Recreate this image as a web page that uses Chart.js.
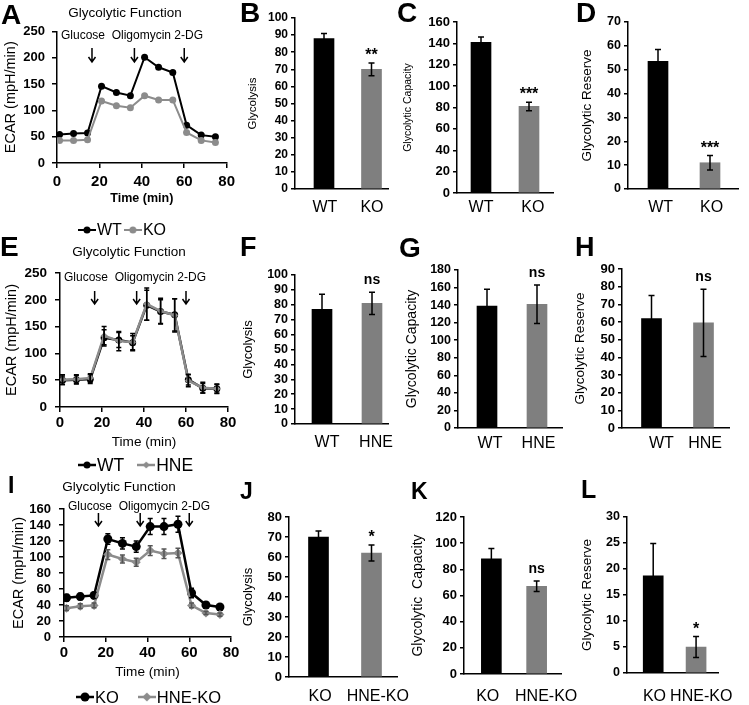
<!DOCTYPE html>
<html lang="en">
<head>
<meta charset="UTF-8">
<title>Glycolytic Function</title>
<script src="https://cdn.jsdelivr.net/npm/chart.js"></script>
<style>
  body { margin: 0; background: #fff; overflow: hidden; }
  #fig { position: relative; width: 749px; height: 705px; overflow: hidden; font-family: Arial, "Liberation Sans", sans-serif; }
  #fig canvas { position: absolute; }
  .tag { position: absolute; font-weight: bold; line-height: 1; color: #000; }
</style>
</head>
<body>
<div id="fig"></div>
<script>
// ---- data ----
const timeMin = [1.2, 7.8, 14.4, 21, 28, 34.6, 41.3, 47.9, 54.6, 61.1, 68, 74.7];
const injectTimes = [16.5, 36.5, 60];
const injectText = 'Glucose  Oligomycin 2-DG';

// A: WT vs KO
const ecarWT_A = [54, 56, 57, 146, 134, 128, 201, 182, 172, 72, 53, 50];
const ecarKO_A = [43, 43, 44, 118, 109, 105, 128, 120, 120, 58, 43, 39];
// E: WT vs HNE
const ecarWT_E = [50, 51, 52, 129, 125, 120, 190, 178, 172, 51, 35, 34];
const errWT_E = [8, 8, 8, 15, 14, 13, 28, 22, 30, 10, 9, 8];
const ecarHNE_E = [51, 52, 54, 133, 123, 121, 192, 179, 171, 49, 36, 34];
const errHNE_E = [9, 8, 8, 17, 18, 16, 30, 24, 31, 11, 10, 9];
// I: KO vs HNE-KO
const ecarKO_I = [49, 50.5, 52, 122.5, 117, 113, 138, 138, 141, 55, 40, 37.5];
const errKO_I = [4, 4, 4, 6.5, 7, 7, 10, 10, 10, 6, 3, 2];
const ecarHNEKO_I = [36, 38.5, 39.5, 103, 97.5, 93.5, 108, 104, 105, 39.5, 30, 28];
const errHNEKO_I = [3, 3, 3, 6, 5, 5, 6, 6, 6, 3, 2, 2];

// bar panels
const groupsWTKO = ['WT', 'KO'];
const groupsWTHNE = ['WT', 'HNE'];
const groupsKOHNE = ['KO', 'HNE-KO'];
const glycolysisB = [88, 70],   glycolysisErrB = [3, 3.7],  sigB = ['', '**'];
const capacityC = [141, 81],    capacityErrC = [5, 4],      sigC = ['', '***'];
const reserveD = [53.5, 11],    reserveErrD = [5, 3],       sigD = ['', '***'];
const glycolysisF = [77, 81],   glycolysisErrF = [10, 7.5], sigF = ['', 'ns'];
const capacityG = [139, 141],   capacityErrG = [19, 22],    sigG = ['', 'ns'];
const reserveH = [62, 59.5],    reserveErrH = [13, 19],     sigH = ['', 'ns'];
const glycolysisJ = [70, 62],   glycolysisErrJ = [3, 4],    sigJ = ['', '*'];
const capacityK = [88, 67],     capacityErrK = [8, 4],      sigK = ['', 'ns'];
const reserveL = [18.7, 5],     reserveErrL = [6.2, 2],     sigL = ['', '*'];

const FONT = 'Arial, "Liberation Sans", sans-serif';
const BLACK = '#000000';
const GRAY_BAR = '#7f7f7f';
const GRAY_LINE = '#8c8c8c';

Chart.defaults.font.family = FONT;
Chart.defaults.color = BLACK;

const fig = document.getElementById('fig');

function addCanvas(left, top, w, h) {
  const c = document.createElement('canvas');
  c.width = w; c.height = h;
  c.style.left = left + 'px'; c.style.top = top + 'px';
  c.style.width = w + 'px'; c.style.height = h + 'px';
  fig.appendChild(c);
  return c;
}

function addTag(text, left, capTop, size) {
  const d = document.createElement('div');
  d.className = 'tag';
  d.textContent = text;
  d.style.left = left + 'px';
  d.style.top = (capTop - 0.13 * size) + 'px';
  d.style.fontSize = size + 'px';
  fig.appendChild(d);
}

// small line+marker image for the legend
function legendMarker(color, style, r, lw) {
  const c = document.createElement('canvas');
  c.width = 18; c.height = 12;
  const x = c.getContext('2d');
  x.strokeStyle = color; x.fillStyle = color; x.lineWidth = lw;
  x.beginPath(); x.moveTo(0, 6); x.lineTo(18, 6); x.stroke();
  x.beginPath();
  if (style === 'rectRot') {
    x.moveTo(9, 6 - r); x.lineTo(9 + r, 6); x.lineTo(9, 6 + r); x.lineTo(9 - r, 6); x.closePath();
  } else {
    x.arc(9, 6, r, 0, Math.PI * 2);
  }
  x.fill();
  return c;
}

const errorBars = {
  id: 'errorBars',
  afterDatasetsDraw(chart) {
    const ctx = chart.ctx;
    const ys = chart.scales.y;
    chart.data.datasets.forEach((ds, i) => {
      if (!ds.errors) return;
      const meta = chart.getDatasetMeta(i);
      ctx.save();
      ctx.strokeStyle = ds.errColor || BLACK;
      ctx.lineWidth = 1.5;
      meta.data.forEach((el, j) => {
        const v = ds.data[j].y, e = ds.errors[j];
        const top = ys.getPixelForValue(v + e), bot = ys.getPixelForValue(v - e);
        const cap = ds.capWidth || 3;
        ctx.beginPath();
        ctx.moveTo(el.x, top); ctx.lineTo(el.x, bot);
        ctx.moveTo(el.x - cap, top); ctx.lineTo(el.x + cap, top);
        ctx.moveTo(el.x - cap, bot); ctx.lineTo(el.x + cap, bot);
        ctx.stroke();
      });
      ctx.restore();
    });
  }
};

const sigMarks = {
  id: 'sigMarks',
  afterDraw(chart, args, o) {
    if (!o.labels) return;
    const ctx = chart.ctx;
    const ds = chart.data.datasets[0];
    const meta = chart.getDatasetMeta(0);
    ctx.save();
    ctx.fillStyle = BLACK;
    ctx.textAlign = 'center';
    ctx.textBaseline = 'alphabetic';
    o.labels.forEach((lab, j) => {
      if (!lab) return;
      const top = chart.scales.y.getPixelForValue(ds.data[j].y + ds.errors[j]);
      const star = lab.indexOf('*') >= 0;
      ctx.font = 'bold ' + (star ? 16 : 14) + 'px ' + FONT;
      ctx.fillText(lab, meta.data[j].x, top - (star ? 3 : 8));
    });
    ctx.restore();
  }
};

// title, injection arrows and the line+marker legend of the ECAR panels
const ecarDecor = {
  id: 'ecarDecor',
  afterDraw(chart, args, o) {
    if (!o.title) return;
    const ctx = chart.ctx;
    const xs = chart.scales.x;
    ctx.save();
    ctx.fillStyle = BLACK;
    ctx.textBaseline = 'middle';
    ctx.textAlign = 'center';
    ctx.font = o.titleSize + 'px ' + FONT;
    ctx.fillText(o.title, o.titleX, o.titleY);
    ctx.textAlign = 'left';
    ctx.font = '12px ' + FONT;
    ctx.fillText(injectText, xs.left + 4, o.textY);
    ctx.strokeStyle = BLACK;
    ctx.lineWidth = 1.5;
    injectTimes.forEach(t => {
      const px = xs.getPixelForValue(t);
      ctx.beginPath();
      ctx.moveTo(px, o.arrowTop); ctx.lineTo(px, o.arrowBottom);
      ctx.moveTo(px - 3.5, o.arrowBottom - 5); ctx.lineTo(px, o.arrowBottom); ctx.lineTo(px + 3.5, o.arrowBottom - 5);
      ctx.stroke();
    });
    // legend
    ctx.font = o.legendFont + 'px ' + FONT;
    let x = o.legendX;
    chart.data.datasets.forEach(ds => {
      const m = ds.marker;
      ctx.drawImage(m, x, o.legendY - m.height / 2);
      x += m.width + 1;
      ctx.fillText(ds.label, x, o.legendY + 1);
      x += ctx.measureText(ds.label).width + o.legendGap;
    });
    ctx.restore();
  }
};

function ecarPanel(g, series) {
  const H = Math.round(g.legendY + 12 - g.top0);
  const bottomAbs = g.top0 + H;
  const canvas = addCanvas(0, g.top0, g.W, H);
  new Chart(canvas, {
    type: 'line',
    data: {
      datasets: series.map((s, k) => ({
        label: s.label,
        data: timeMin.map((t, i) => ({ x: t, y: s.values[i] })),
        errors: s.errors,
        errColor: s.errColor || s.color,
        capWidth: 2.5,
        order: series.length - k,
        borderColor: s.color,
        backgroundColor: s.color,
        borderWidth: g.lineWidth,
        pointStyle: s.pointStyle,
        pointRadius: s.radius,
        pointBorderWidth: 0,
        pointBackgroundColor: s.color,
        marker: legendMarker(s.color, s.pointStyle, s.radius, g.lineWidth)
      }))
    },
    options: {
      responsive: false, animation: false, devicePixelRatio: 1, events: [],
      layout: { padding: { left: 0, top: g.top - g.top0, right: g.W - g.right, bottom: 0 } },
      scales: {
        x: {
          type: 'linear', min: 0, max: 80,
          ticks: { stepSize: 20, autoSkip: false, font: { size: g.xTickSize, weight: 'bold' }, padding: g.xTickY - g.bottom - 5 - 0.6 * g.xTickSize, maxRotation: 0 },
          grid: { drawOnChartArea: false, drawTicks: true, tickLength: 5, color: BLACK, lineWidth: 1.5 },
          border: { color: BLACK, width: 1.5 },
          title: {
            display: true, text: 'Time (min)',
            font: { size: g.xTitleSize, weight: g.xTitleBold ? 'bold' : 'normal' },
            padding: { top: 0, bottom: bottomAbs - g.xTitleY - 0.6 * g.xTitleSize }
          },
          afterFit: s => { s.height = bottomAbs - g.bottom; }
        },
        y: {
          min: 0, max: g.yMax,
          ticks: { stepSize: g.yStep, autoSkip: false, font: { size: g.yTickSize, weight: 'bold' }, padding: g.yTickPad },
          grid: { drawOnChartArea: false, drawTicks: true, tickLength: 5, color: BLACK, lineWidth: 1.5 },
          border: { color: BLACK, width: 1.5 },
          title: {
            display: true, text: 'ECAR (mpH/min)', font: { size: 14.5 },
            padding: { top: g.yTitleX - 0.6 * 14.5, bottom: 0 }
          },
          afterFit: s => { s.width = g.axisX; }
        }
      },
      plugins: {
        tooltip: { enabled: false },
        legend: { display: false },
        ecarDecor: {
          title: 'Glycolytic Function', titleSize: 13.5,
          titleX: g.titleX, titleY: g.titleY - g.top0,
          textY: g.textY - g.top0,
          arrowTop: g.arrowTop - g.top0, arrowBottom: g.arrowBottom - g.top0,
          legendX: g.legendX, legendY: g.legendY - g.top0, legendFont: g.legendFont, legendGap: g.legendGap
        }
      }
    },
    plugins: [errorBars, ecarDecor]
  });
}

function barPanel(g, cats, values, errors, sig, yTitle) {
  const H = Math.round(g.catY + 14 - g.top0);
  const d = g.c2 - g.c1;
  const xMin = -(g.c1 - g.axisX) / d;
  const xMax = xMin + (g.right - g.axisX) / d;
  const canvas = addCanvas(g.left0, g.top0, g.W, H);
  new Chart(canvas, {
    type: 'bar',
    data: {
      datasets: [{
        data: cats.map((c, i) => ({ x: i, y: values[i] })),
        errors: errors,
        backgroundColor: [BLACK, GRAY_BAR],
        borderWidth: 0,
        barThickness: 20,
        capWidth: 3
      }]
    },
    options: {
      responsive: false, animation: false, devicePixelRatio: 1, events: [],
      layout: { padding: { left: 0, top: g.top - g.top0, right: g.W - (g.right - g.left0), bottom: 0 } },
      scales: {
        x: {
          type: 'linear', min: xMin, max: xMax, offset: false,
          // category names sit a little off the bar centres in the figure
          afterBuildTicks: s => { s.ticks = cats.map((c, i) => ({ value: i + g.labelShift[i] })); },
          ticks: { callback: v => cats[Math.round(v)], autoSkip: false, maxRotation: 0, font: { size: 16 }, padding: g.catY - g.bottom - 0.6 * 16 },
          grid: { display: false, drawTicks: false },
          border: { color: BLACK, width: 1.5 },
          afterFit: s => { s.height = H - (g.bottom - g.top0); }
        },
        y: {
          min: 0, max: g.yMax,
          ticks: { stepSize: g.yStep, autoSkip: false, font: { size: g.tickSize, weight: 'bold' }, padding: 3 },
          grid: { drawOnChartArea: false, drawTicks: true, tickLength: 4, color: BLACK, lineWidth: 1.5 },
          border: { color: BLACK, width: 1.5 },
          title: {
            display: true, text: yTitle, font: { size: g.titleSize },
            padding: { top: (g.yTitleX - g.left0) - 0.6 * g.titleSize, bottom: 0 }
          },
          afterFit: s => { s.width = g.axisX - g.left0; }
        }
      },
      plugins: {
        legend: { display: false },
        tooltip: { enabled: false },
        sigMarks: { labels: sig }
      }
    },
    plugins: [errorBars, sigMarks]
  });
}

// ---- line panels ----
ecarPanel({ top0: 0, W: 240, axisX: 57, right: 227, top: 31.5, bottom: 163, yMax: 250, yStep: 50,
  yTickSize: 13, yTickPad: 7, xTickSize: 15, xTickY: 182, xTitleSize: 12.5, xTitleBold: true, xTitleY: 199,
  yTitleX: 11, legendY: 230, legendX: 78, legendFont: 16, legendGap: 2, lineWidth: 2,
  titleX: 125, titleY: 13, textY: 36, arrowTop: 48, arrowBottom: 62 },
  [{ label: 'WT', values: ecarWT_A, color: BLACK, pointStyle: 'circle', radius: 3.5 },
   { label: 'KO', values: ecarKO_A, color: GRAY_LINE, pointStyle: 'circle', radius: 3.5 }]);

ecarPanel({ top0: 235, W: 272, axisX: 60, right: 228, top: 273, bottom: 407, yMax: 250, yStep: 50,
  yTickSize: 13.5, yTickPad: 8, xTickSize: 15, xTickY: 423, xTitleSize: 13.6, xTitleBold: false, xTitleY: 442,
  yTitleX: 12, legendY: 465, legendX: 78, legendFont: 17.5, legendGap: 13, lineWidth: 2.5,
  titleX: 129, titleY: 252, textY: 278, arrowTop: 291, arrowBottom: 304 },
  [{ label: 'WT', values: ecarWT_E, errors: errWT_E, color: BLACK, pointStyle: 'circle', radius: 3.5 },
   { label: 'HNE', values: ecarHNE_E, errors: errHNE_E, color: GRAY_LINE, errColor: BLACK, pointStyle: 'rectRot', radius: 3.5 }]);

ecarPanel({ top0: 460, W: 294, axisX: 64, right: 231, top: 509, bottom: 637, yMax: 160, yStep: 20,
  yTickSize: 13, yTickPad: 8, xTickSize: 15, xTickY: 653, xTitleSize: 13.6, xTitleBold: false, xTitleY: 672,
  yTitleX: 19, legendY: 697, legendX: 76, legendFont: 16.5, legendGap: 19, lineWidth: 2.5,
  titleX: 119, titleY: 487, textY: 507, arrowTop: 513, arrowBottom: 526 },
  [{ label: 'KO', values: ecarKO_I, errors: errKO_I, color: BLACK, pointStyle: 'circle', radius: 4.5 },
   { label: 'HNE-KO', values: ecarHNEKO_I, errors: errHNEKO_I, color: GRAY_LINE, errColor: '#555555', pointStyle: 'rectRot', radius: 4.5 }]);

// ---- bar panels ----
barPanel({ left0: 240, top0: 0, W: 175, axisX: 295, right: 388, top: 18, bottom: 189, catY: 208, yTitleX: 253, titleSize: 11.5, tickSize: 12, c1: 324, c2: 371.5, labelShift: [0.02, 0.01], yMax: 100, yStep: 10 },
  groupsWTKO, glycolysisB, glycolysisErrB, sigB, 'Glycolysis');
barPanel({ left0: 395, top0: 0, W: 185, axisX: 457, right: 553, top: 22, bottom: 193, catY: 208, yTitleX: 408, titleSize: 10.5, tickSize: 13, c1: 481, c2: 529, labelShift: [0, 0.08], yMax: 160, yStep: 20 },
  groupsWTKO, capacityC, capacityErrC, sigC, 'Glycolytic Capacity');
barPanel({ left0: 570, top0: 0, W: 179, axisX: 628, right: 738, top: 22, bottom: 189, catY: 208, yTitleX: 587, titleSize: 13.5, tickSize: 12.5, c1: 658, c2: 710, labelShift: [0.05, 0.03], yMax: 70, yStep: 10 },
  groupsWTKO, reserveD, reserveErrD, sigD, 'Glycolytic Reserve');

barPanel({ left0: 240, top0: 235, W: 175, axisX: 295, right: 388, top: 275, bottom: 424, catY: 443, yTitleX: 248, titleSize: 13, tickSize: 12.5, c1: 322, c2: 372, labelShift: [0.1, 0.08], yMax: 100, yStep: 10 },
  groupsWTHNE, glycolysisF, glycolysisErrF, sigF, 'Glycolysis');
barPanel({ left0: 395, top0: 235, W: 185, axisX: 458, right: 562, top: 270, bottom: 428, catY: 444, yTitleX: 412, titleSize: 14, tickSize: 12.5, c1: 487, c2: 537, labelShift: [0.06, 0.03], yMax: 180, yStep: 20 },
  groupsWTHNE, capacityG, capacityErrG, sigG, 'Glycolytic Capacity');
barPanel({ left0: 570, top0: 235, W: 179, axisX: 622, right: 729, top: 269, bottom: 428, catY: 444, yTitleX: 580, titleSize: 13.5, tickSize: 13, c1: 651.5, c2: 703.5, labelShift: [0.19, 0.03], yMax: 90, yStep: 10 },
  groupsWTHNE, reserveH, reserveErrH, sigH, 'Glycolytic Reserve');

barPanel({ left0: 240, top0: 460, W: 190, axisX: 289, right: 397, top: 517, bottom: 677, catY: 697, yTitleX: 248, titleSize: 13, tickSize: 13, c1: 318.5, c2: 371.5, labelShift: [0.03, 0.12], yMax: 80, yStep: 10 },
  groupsKOHNE, glycolysisJ, glycolysisErrJ, sigJ, 'Glycolysis');
barPanel({ left0: 395, top0: 460, W: 200, axisX: 464, right: 567, top: 517, bottom: 674, catY: 697, yTitleX: 418, titleSize: 14, tickSize: 13, c1: 493, c2: 541, labelShift: [-0.08, 0.21], yMax: 120, yStep: 20 },
  groupsKOHNE, capacityK, capacityErrK, sigK, 'Glycolytic  Capacity');
barPanel({ left0: 570, top0: 460, W: 179, axisX: 627, right: 737, top: 517, bottom: 673, catY: 697, yTitleX: 587, titleSize: 13.5, tickSize: 12.5, c1: 658.5, c2: 710, labelShift: [0.03, 0.12], yMax: 30, yStep: 5 },
  groupsKOHNE, reserveL, reserveErrL, sigL, 'Glycolytic Reserve');

// ---- panel letters ----
[['A', 1, 5, 28], ['B', 240, 3, 28], ['C', 397, 3, 28], ['D', 576, 3, 28],
 ['E', 0, 237, 28], ['F', 240, 238, 27], ['G', 399, 238, 28], ['H', 575, 238, 27],
 ['I', 8, 477, 23], ['J', 240, 483, 23], ['K', 411, 483, 23], ['L', 581, 480, 25]]
  .forEach(t => addTag(t[0], t[1], t[2], t[3]));
</script>
</body>
</html>
